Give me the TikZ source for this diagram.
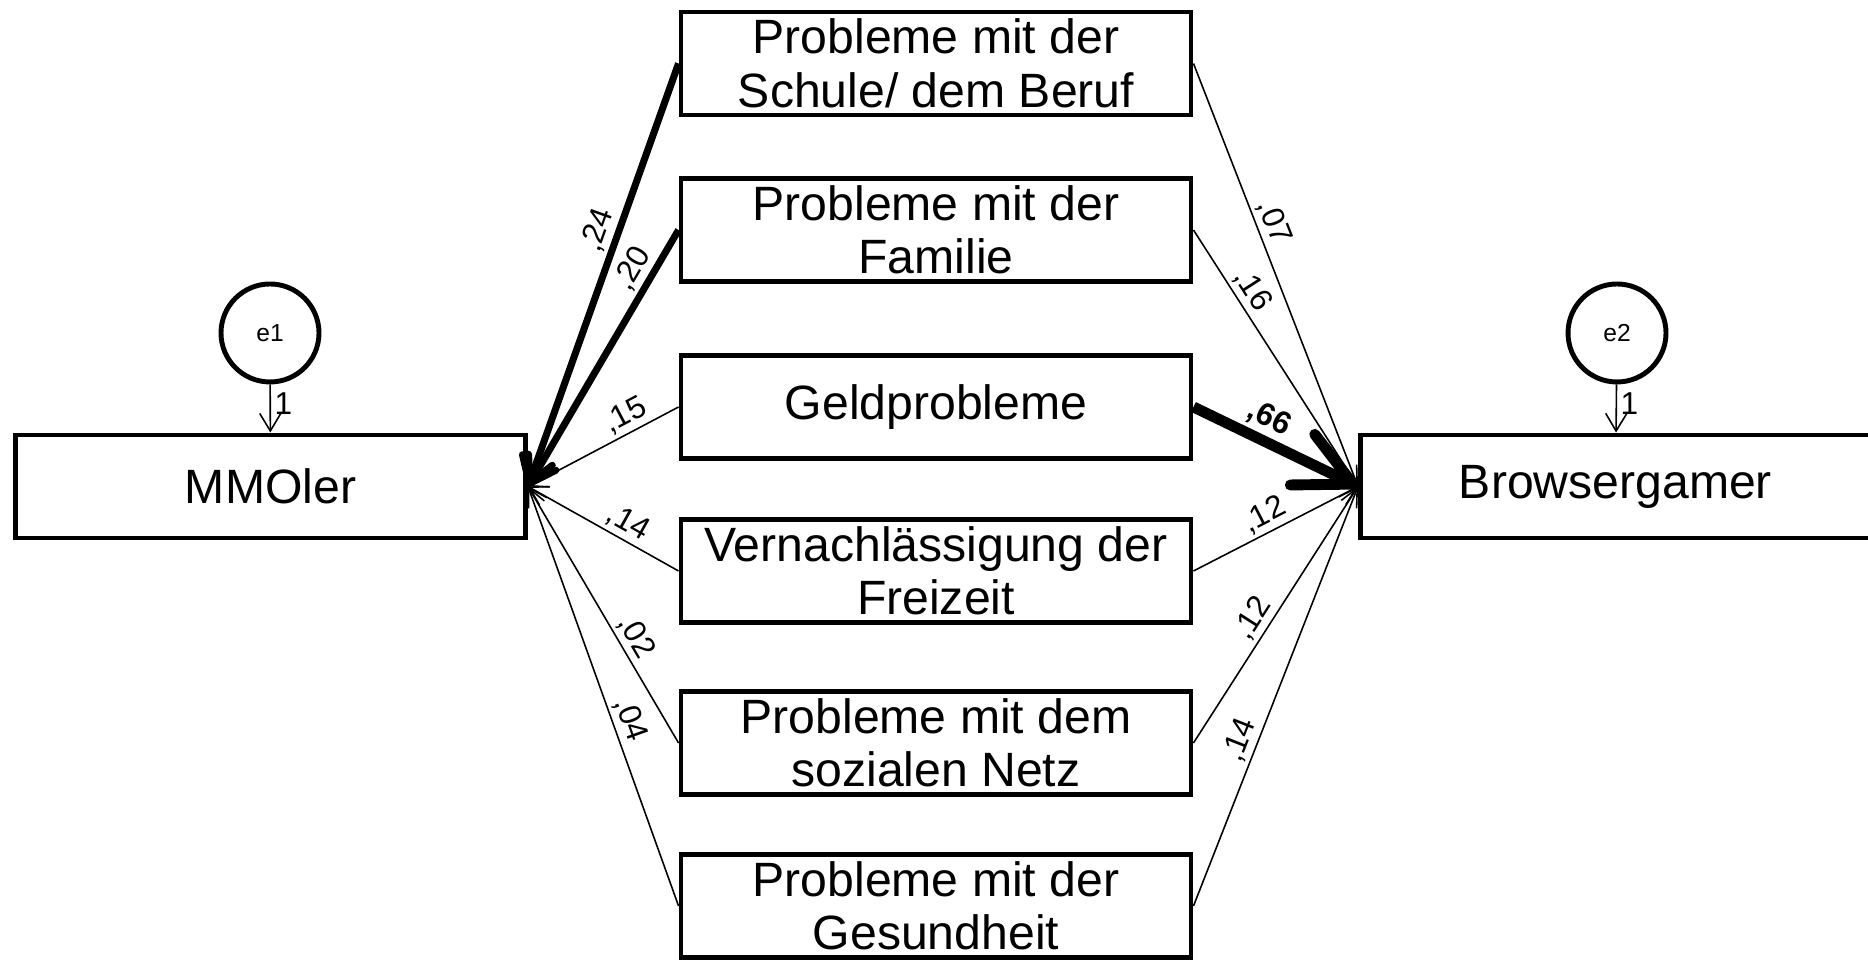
\documentclass[tikz,border=0pt]{standalone}
\usepackage{fontspec}
\setmainfont{Liberation Sans}
\usetikzlibrary{arrows.meta}

\tikzset{
  varbox/.style={draw, line width=1.4pt, minimum width=5.1cm, minimum height=1.03cm, inner sep=0pt, align=center, font=\fontsize{13.7}{15.2}\selectfont},
  errcirc/.style={draw, circle, line width=1.4pt, minimum size=0.98cm, inner sep=0pt, font=\fontsize{7}{8}\selectfont},
  thinpath/.style={line width=0.45pt, -{Straight Barb[length=5pt,width=6pt]}},
  midpath/.style={line width=2pt, -{Straight Barb[length=7pt,width=9pt,round]}},
  fatpath/.style={line width=3.1pt, -{Straight Barb[length=16pt,width=16pt,round]}},
  coef/.style={sloped, above, inner sep=1pt, font=\fontsize{9}{10}\selectfont},
}

\begin{document}
\begin{tikzpicture}

\useasboundingbox (0,0) rectangle (18.68,9.62);

\node[varbox] (mmo) at (2.705,4.755) {MMOler};
\node[varbox] (bg) at (16.155,4.755) {Browsergamer};

\node[errcirc] (e1) at (2.70,6.29) {e1};
\node[errcirc] (e2) at (16.17,6.29) {e2};

\draw[thinpath] (e1) -- node[right, inner sep=1pt, pos=0.4, font=\fontsize{9}{10}\selectfont] {1} (mmo);
\draw[thinpath] (e2) -- node[right, inner sep=1pt, pos=0.4, font=\fontsize{9}{10}\selectfont] {1} (bg);

\node[varbox] (pschule) at (9.36,8.985) {Probleme mit der\\Schule/ dem Beruf};
\node[varbox] (pfamilie) at (9.36,7.32) {Probleme mit der\\Familie};
\node[varbox] (pgeld) at (9.36,5.55) {Geldprobleme};
\node[varbox] (pfreizeit) at (9.36,3.91) {Vernachlässigung der\\Freizeit};
\node[varbox] (psozial) at (9.36,2.19) {Probleme mit dem\\sozialen Netz};
\node[varbox] (pgesund) at (9.36,0.56) {Probleme mit der\\Gesundheit};

% paths to MMOler
\draw[midpath] (pschule.west) -- node[coef, pos=0.41] {,24} (mmo.east);
\draw[midpath] (pfamilie.west) -- node[coef, pos=0.19] {,20} (mmo.east);
\draw[thinpath] (pgeld.west) -- node[coef, pos=0.30] {,15} (mmo.east);
\draw[thinpath] (pfreizeit.west) -- node[coef, pos=0.39] {,14} (mmo.east);
\draw[thinpath] (psozial.west) -- node[coef, pos=0.38] {,02} (mmo.east);
\draw[thinpath] (pgesund.west) -- node[coef, pos=0.43] {,04} (mmo.east);

% paths to Browsergamer
\draw[thinpath] (pschule.east) -- node[coef, pos=0.39] {,07} (bg.west);
\draw[thinpath] (pfamilie.east) -- node[coef, pos=0.27] {,16} (bg.west);
\draw[fatpath] (pgeld.east) -- node[coef, pos=0.40, font=\fontsize{9}{10}\selectfont\bfseries] {,66} (bg.west);
\draw[thinpath] (pfreizeit.east) -- node[coef, pos=0.48] {,12} (bg.west);
\draw[thinpath] (psozial.east) -- node[coef, pos=0.45] {,12} (bg.west);
\draw[thinpath] (pgesund.east) -- node[coef, pos=0.38] {,14} (bg.west);

\end{tikzpicture}
\end{document}
